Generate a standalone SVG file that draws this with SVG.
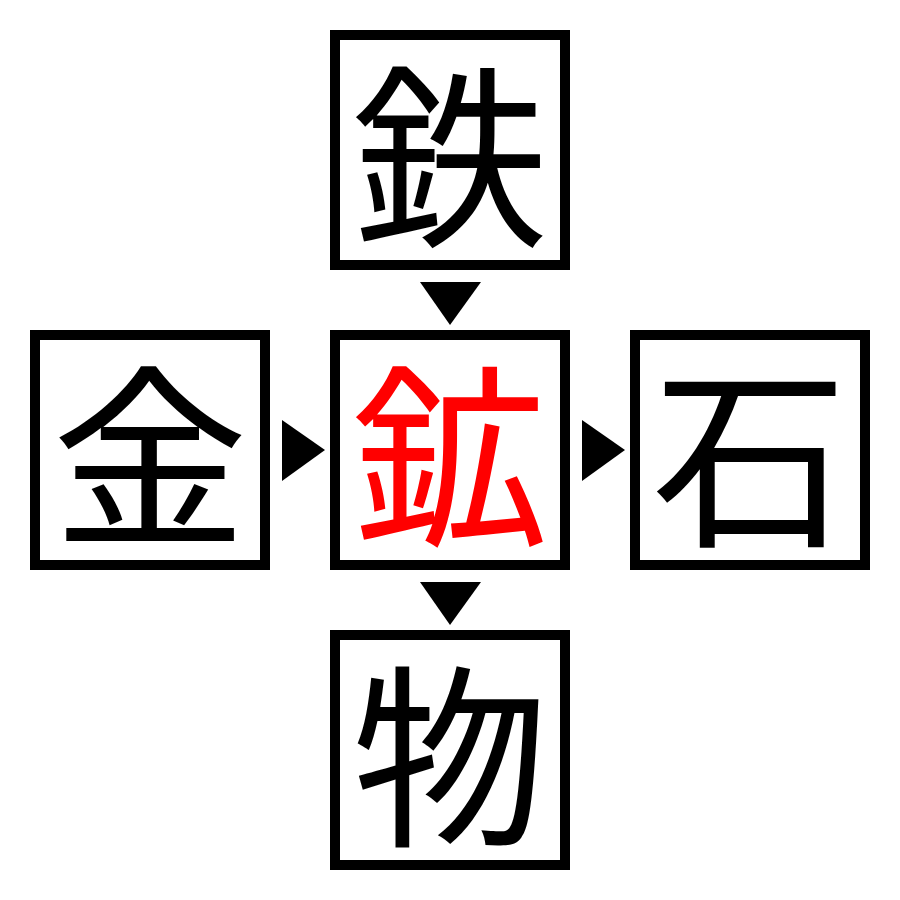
<svg xmlns="http://www.w3.org/2000/svg" width="900" height="900" viewBox="0 0 900 900">
<style>
.box{fill:#fff;stroke:#000;stroke-width:10}
.ch{font-family:"Noto Sans CJK JP","Noto Sans CJK SC",sans-serif;font-size:196px;text-anchor:middle;dominant-baseline:central;fill:#000}
.red{fill:#ff0000}
.arr{fill:#000}
</style>
<rect width="900" height="900" fill="#fff"/>
<g id="connectors">
<polygon class="arr" points="420,282 481,282 450,325"/>
<polygon class="arr" points="282,420 282,481 325,450"/>
<polygon class="arr" points="582,420 582,481 625,450"/>
<polygon class="arr" points="420,582 481,582 450,625"/>
</g>
<g id="node-top"><rect class="box" x="335" y="35" width="230" height="230"/><text class="ch" x="450" y="145">鉄</text></g>
<g id="node-left"><rect class="box" x="35" y="335" width="230" height="230"/><text class="ch" x="150" y="445">金</text></g>
<g id="node-center"><rect class="box" x="335" y="335" width="230" height="230"/><text class="ch red" x="450" y="445">鉱</text></g>
<g id="node-right"><rect class="box" x="635" y="335" width="230" height="230"/><text class="ch" x="750" y="445">石</text></g>
<g id="node-bottom"><rect class="box" x="335" y="635" width="230" height="230"/><text class="ch" x="450" y="745">物</text></g>
</svg>
